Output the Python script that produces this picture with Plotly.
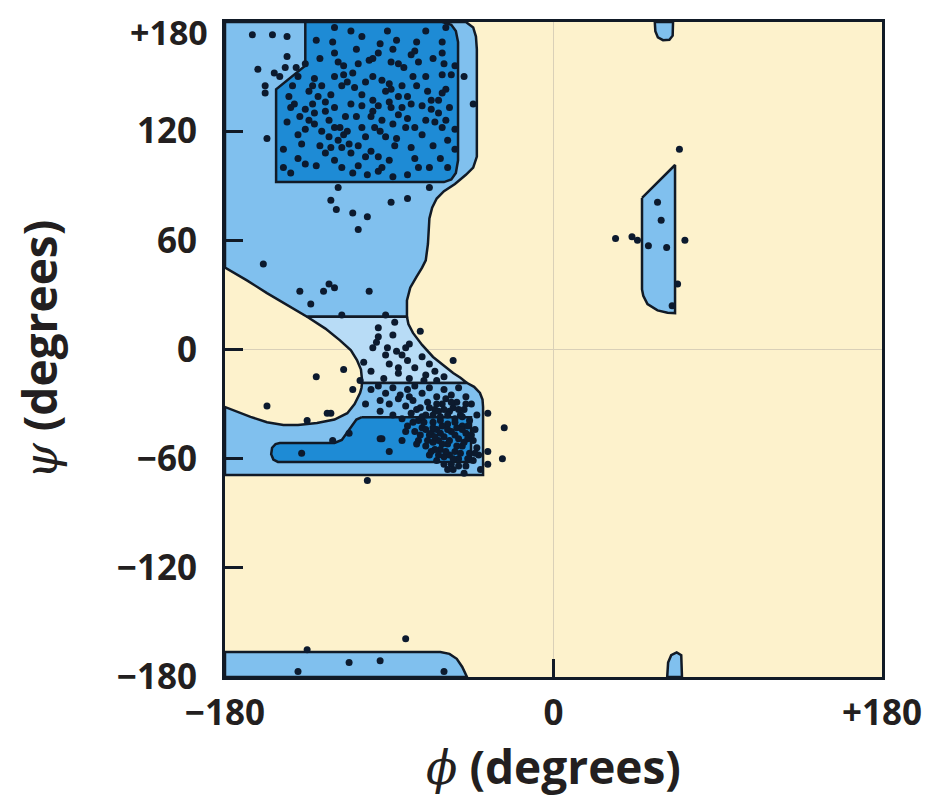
import plotly.graph_objects as go

# ---------------- data (phi, psi in degrees) ----------------
# Allowed-region outlines
region_beta_outer = [(-180, 180), (-48, 180), (-44, 177), (-42.5, 172), (-42, 165), (-42, 106), (-44, 100),
                     (-48, 96), (-54, 91), (-60, 87), (-64, 83), (-66.5, 78), (-68, 72), (-68.8, 58), (-70, 49),
                     (-72, 45), (-75, 40), (-78.5, 34), (-80.3, 27), (-80.3, 18), (-135, 18), (-146, 24.5),
                     (-157, 31), (-168, 38), (-179, 44.8), (-180, 45)]
region_bridge = [(-135, 18), (-125, 11.5), (-117, 5), (-111, -0.5), (-107.7, -5.8), (-105.5, -11),
                 (-104.9, -16.8), (-104.9, -18.4), (-47.4, -18.4), (-51, -15.5), (-55, -12.9), (-60, -9),
                 (-66, -4.1), (-72, 2.5), (-77, 9.1), (-79.5, 14), (-80.3, 18)]
region_alpha_outer = [(-104.9, -18.4), (-47.4, -18.4), (-43.5, -20.5), (-40.3, -23.9), (-38.9, -27.5),
                      (-38.6, -31.6), (-38.6, -69), (-180, -69), (-180, -31.6), (-173, -34.5), (-166, -37),
                      (-157, -40), (-148, -41.5), (-140, -41.5), (-129.6, -40.4), (-120, -38.5), (-113, -35),
                      (-109, -30), (-106, -24), (-105.2, -21)]
region_alpha_core = [(-105, -37.2), (-45.2, -37.2), (-45.2, -61.8), (-151, -61.8), (-153.5, -60.5),
                     (-154.7, -57.5), (-154.2, -54), (-152.3, -52), (-150, -51.4), (-120, -51.4),
                     (-116, -49.7), (-112.6, -45.2), (-108, -38.5)]
region_beta_core = [(-136, 180), (-61, 180), (-56, 178.5), (-53.5, 175), (-52.3, 169), (-52.3, 104),
                    (-53.5, 97), (-56, 93.5), (-60, 92), (-152, 92), (-152, 143), (-136, 156)]
region_bottom = [(-180, -180), (-180, -166.3), (-62, -166.3), (-57, -167.3), (-53, -170), (-50, -174.5),
                 (-47.4, -180)]
region_left_helix = [(48.5, 83.3), (66.6, 101.4), (66.6, 20), (62.5, 20.2), (57, 21.5), (51.5, 25),
                     (49.2, 29.5), (48.5, 33)]
region_top_blob = [(55.5, 180), (55.8, 175), (57.2, 171.5), (60, 170), (63.5, 170.2), (65.3, 172.5), (65.5, 180)]
region_bottom_blob = [(62.3, -180), (62.8, -172), (64.5, -168), (67.5, -166.5), (70, -168), (70.4, -180)]

# Observed residues
beta_points = [(-165, 173), (-154, 173), (-146, 172), (-120, 177), (-111, 175), (-91, 175), (-121, 169),
               (-120, 163), (-96, 163), (-75, 169), (-61, 169), (-59, 177), (-162, 154), (-153, 152),
               (-147, 155), (-146, 161), (-141, 155), (-158, 145), (-158, 141), (-136, 157), (-157, 116),
               (-115, 156), (-107, 157), (-101, 159), (-99, 160), (-89, 158), (-85, 157), (-78, 162),
               (-76, 164), (-74, 158), (-82, 155), (-61, 163), (-60, 157), (-54, 156), (-56, 151), (-49, 150),
               (-61, 151), (-131, 149), (-132, 145), (-134, 142), (-129, 139), (-125, 136), (-122, 140),
               (-145, 139), (-142, 135), (-144, 133), (-136, 132), (-131, 130), (-125, 131), (-120, 133),
               (-115, 151), (-113, 147), (-116, 145), (-109, 144), (-103, 147), (-99, 150), (-94, 148),
               (-90, 146), (-89, 143), (-83, 145), (-80, 139), (-85, 139), (-92, 142), (-99, 137), (-96, 134),
               (-90, 136), (-89, 133), (-85, 129), (-80, 127), (-94, 126), (-99, 131), (-105, 134), (-111, 135),
               (-114, 128), (-117, 122), (-115, 118), (-112, 113), (-116, 111), (-120, 122), (-123, 126),
               (-131, 124), (-136, 121), (-105, 122), (-103, 117), (-107, 112), (-111, 108), (-103, 106),
               (-100, 109), (-96, 106), (-90, 104), (-94, 100), (-87, 112), (-81, 122), (-76, 122), (-78, 111),
               (-76, 105), (-74, 100), (-70, 126), (-67, 132), (-63, 137), (-59, 143), (-63, 130), (-59, 126),
               (-61, 122), (-67, 137), (-72, 134), (-54, 121), (-54, 110), (-58, 100), (-61, 141), (-138, 113),
               (-136, 102), (-130, 101), (-144, 97), (-116, 100), (-107, 101), (-96, 98), (-125, 108),
               (-122, 111), (-123, 117), (-134, 126), (-98, 122), (-92, 117), (-86, 116), (-44, 135),
               (-140, 150), (-128, 160), (-118, 158), (-108, 165), (-95, 168), (-86, 170), (-70, 175),
               (-66, 160), (-70, 150), (-75, 145), (-78, 135), (-72, 118), (-66, 112), (-62, 105), (-68, 100),
               (-80, 96), (-88, 95), (-102, 96), (-110, 97), (-120, 104), (-128, 112), (-140, 118), (-146, 125),
               (-148, 110), (-148, 100), (-140, 105), (-132, 135), (-127, 145), (-120, 150), (-110, 152),
               (-105, 140), (-100, 128), (-95, 120), (-88, 124), (-83, 133), (-77, 150), (-69, 142), (-65, 125),
               (-57, 133), (-58, 115), (-108, 128), (-113, 120), (-118, 115), (-127, 120), (-139, 128),
               (-143, 145), (-150, 150), (-105, 172), (-130, 170), (-88, 165)]
bridge_points = [(-118, 89), (-68, 89), (-122, 82), (-119, 77), (-110, 75), (-102, 73), (-107, 66), (-89, 81),
                 (-80, 83), (-159, 47), (-139, 32), (-133, 25), (-126, 32), (-123, 36), (-120, 34), (-101, 32),
                 (-116, 19), (-92, 19), (-87, 15), (-73, 10), (-96, 12), (-96, 7), (-97, 4), (-99, 1), (-91, 1),
                 (-86, -1), (-83, -3), (-81, 1), (-79, 3), (-85, -10), (-85, -13), (-76, -10), (-93, -16),
                 (-79, -16), (-70, -14), (-68, -8), (-65, -12), (-64, -17), (-104, -7), (-106, -17), (-90, -8),
                 (-80, -6), (-72, -4), (-60, -15), (-88, 8), (-92, -3), (-71, -17), (-100, -12), (-55, -6)]
alpha_points = [(-100, -22), (-96, -20), (-92, -24), (-88, -21), (-84, -25), (-80, -22), (-76, -20), (-72, -24),
                (-68, -21), (-64, -26), (-60, -22), (-56, -25), (-52, -21), (-48, -26), (-95, -28), (-90, -30),
                (-85, -27), (-81, -31), (-77, -28), (-73, -32), (-69, -29), (-65, -33), (-61, -30), (-57, -34),
                (-53, -29), (-49, -33), (-45, -30), (-42, -36), (-88, -36), (-83, -38), (-78, -35), (-74, -39),
                (-70, -36), (-66, -40), (-62, -37), (-58, -41), (-54, -38), (-50, -42), (-46, -39), (-43, -44),
                (-80, -42), (-76, -45), (-72, -43), (-68, -47), (-64, -44), (-60, -48), (-56, -45), (-52, -49),
                (-48, -46), (-44, -50), (-74, -50), (-70, -53), (-66, -51), (-62, -55), (-58, -52), (-54, -56),
                (-50, -53), (-46, -57), (-42, -54), (-68, -58), (-64, -61), (-60, -59), (-56, -63), (-52, -60),
                (-48, -64), (-44, -61), (-40, -66), (-63, -34), (-59, -27), (-55, -32), (-51, -36), (-67, -46),
                (-63, -50), (-57, -58), (-53, -43), (-61, -42), (-65, -55), (-71, -40), (-47, -49), (-58, -66),
                (-49, -68), (-41, -58), (-95, -49), (-90, -56), (-83, -50), (-81, -45), (-122, -35), (-112, -46),
                (-121, -50), (-138, -57), (-94, -49), (-75, -52), (-102, -72), (-36, -35), (-27, -43), (-28, -60),
                (-36, -56), (-36, -63), (-95, -34), (-110, -22), (-103, -30), (-157, -31), (-135, -39),
                (-124, -35), (-130, -15), (-115, -11),
                (-66, -36), (-62, -39), (-58, -36), (-54, -40), (-50, -37), (-66, -43), (-62, -46), (-58, -44),
                (-54, -47), (-50, -44), (-47, -42), (-69, -50), (-65, -48), (-61, -52), (-57, -50), (-53, -53),
                (-49, -51), (-45, -47), (-67, -56), (-63, -58), (-59, -56), (-55, -60), (-51, -57), (-47, -60),
                (-43, -57), (-60, -63), (-55, -66), (-52, -64), (-70, -44), (-73, -47), (-77, -40), (-72, -37),
                (-68, -32), (-64, -30), (-60, -33), (-56, -29), (-52, -33), (-48, -30), (-75, -33), (-79, -26)]
other_points = [(69, 110), (57, 81), (59, 71), (34, 61), (43, 62), (46, 60), (52, 57), (62, 56), (72, 60),
                (68, 36), (65, 24), (-135, -165), (-81, -159), (-112, -172), (-95, -171), (-140, -177),
                (-60, -177)]

# Axis tick labels
x_tickvals = [-180, 0, 180]
x_ticktext = ["\u2212180", "0", "+180"]
y_tickvals = [-180, -120, -60, 0, 60, 120, 180]
y_ticktext = ["\u2212180", "\u2212120", "\u221260", "0", "60", "120", ""]
y_top_label = "+180"   # drawn as an annotation so it stays inside the page

# ---------------- styling ----------------
CREAM = "#FDF2CC"
LIGHT = "#80C0EE"
LIGHTEST = "#B8DCF6"
DARK = "#1E8BD5"
INK = "#111A26"
DOT = "#0C1A2E"

fig = go.Figure()


def add_region(poly, color):
    xs = [p[0] for p in poly] + [poly[0][0]]
    ys = [p[1] for p in poly] + [poly[0][1]]
    fig.add_trace(go.Scatter(x=xs, y=ys, mode="lines", fill="toself", fillcolor=color,
                             line=dict(color=INK, width=2.5), hoverinfo="skip"))


add_region(region_beta_outer, LIGHT)
add_region(region_bridge, LIGHTEST)
add_region(region_alpha_outer, LIGHT)
add_region(region_alpha_core, DARK)
add_region(region_beta_core, DARK)
add_region(region_bottom, LIGHT)
add_region(region_left_helix, LIGHT)
add_region(region_top_blob, LIGHT)
add_region(region_bottom_blob, LIGHT)

pts = beta_points + bridge_points + alpha_points + other_points
fig.add_trace(go.Scatter(x=[p[0] for p in pts], y=[p[1] for p in pts], mode="markers",
                         marker=dict(size=7, color=DOT), cliponaxis=True))

tickfont = dict(family="Open Sans", size=35, color="#231F20", weight="bold")
topfont = dict(family="Open Sans", size=34, color="#231F20", weight="bold")
titlefont = dict(family="Open Sans", size=46, color="#231F20")
greek = "<span style='font-family:DejaVu Serif;font-style:italic;font-weight:normal'>{}</span>"

fig.update_xaxes(range=[-180, 180], tickvals=x_tickvals, ticktext=x_ticktext, ticks="inside", ticklen=18,
                 tickwidth=3, tickcolor=INK, showline=True, linewidth=3, linecolor=INK, mirror=True,
                 showgrid=False, zeroline=True, zerolinecolor="#D9D0B8", zerolinewidth=1,
                 tickfont=tickfont, ticklabelstandoff=3, ticklabeloverflow="allow", automargin=False,
                 title=dict(text=greek.format("\u03d5") + " <b>(degrees)</b>", font=titlefont, standoff=12))
fig.update_yaxes(range=[-180, 180], tickvals=y_tickvals, ticktext=y_ticktext, ticks="inside", ticklen=18,
                 tickwidth=3, tickcolor=INK, showline=True, linewidth=3, linecolor=INK, mirror=True,
                 showgrid=False, zeroline=True, zerolinecolor="#D9D0B8", zerolinewidth=1,
                 tickfont=tickfont, ticklabelstandoff=18, ticklabeloverflow="allow", automargin=False,
                 title=dict(text=greek.format("\u03c8") + " <b>(degrees)</b>", font=titlefont, standoff=52))

fig.add_annotation(x=0, xref="paper", xanchor="right", xshift=-16, y=180, yref="y", yanchor="middle",
                   yshift=-10, text=y_top_label, showarrow=False, font=topfont, borderpad=0)

fig.update_layout(width=925, height=800, margin=dict(l=217, r=51, t=14, b=131, autoexpand=False),
                  plot_bgcolor=CREAM, paper_bgcolor="white", showlegend=False)

fig.write_html("out.html")
